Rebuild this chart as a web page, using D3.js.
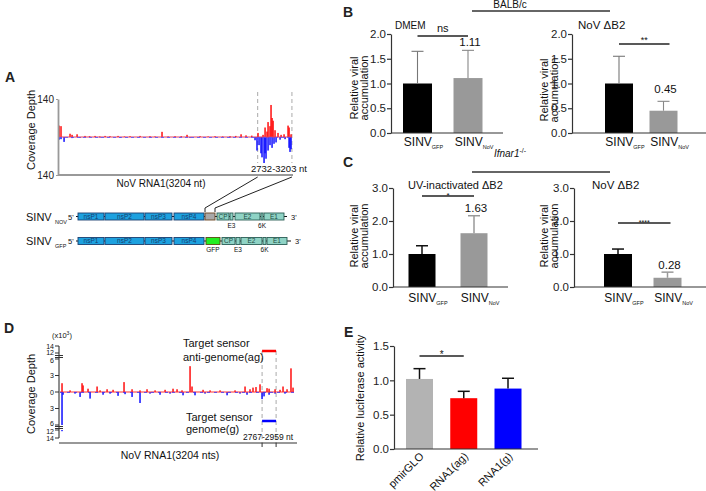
<!DOCTYPE html>
<html><head><meta charset="utf-8">
<script src="https://cdn.jsdelivr.net/npm/d3@7"></script>
<style>body{margin:0;background:#fff} svg{display:block;font-family:"Liberation Sans",Arial,sans-serif}</style>
</head><body><svg id="c" width="706" height="491"></svg>
<script>
// ---------------- DATA ----------------
// Panel A coverage (NoV RNA1, 3204 nt), reads
const covALen = 3204;
const covARegion = [2732, 3203];
const covANtRed = [0,27,151,179,248,357,495,633,811,976,1114,1416,1595,1760,1939,2145,2351,2503,2571,2736,2805,2833,2860,2874,2901,2915,2929,2943,2970,3011,3053,3094,3149,3163,3190,420,560,700,900,1250,1320,1500,1680,2050,2250,2430,2650];
const covARed   = [42,40,12,8,10,4,4,4,4,3,4,19,3,8,3,3,3,10,6,15,8,35,20,55,40,118,70,60,25,15,8,10,42,35,10,3,2,3,2,3,2,2,3,2,2,4,5];
const covANtBlue = [0,27,69,179,289,564,839,1251,1801,2351,2695,2722,2750,2777,2791,2819,2833,2846,2874,2901,2929,2956,2984,3039,3108,3163,3176,3190];
const covABlue   = [-10,-8,-18,-4,-3,-2,-3,-2,-3,-2,-12,-50,-30,-60,-75,-100,-60,-80,-50,-30,-40,-25,-20,-10,-8,-40,-55,-45];

// Genome maps (map units)
const novSegNames = ["nsP1","nsP2","nsP3","nsP4","NoV","CP","E3","E2","6K","E1"];
const novSegStart = [0,27,67,96,127,139,152,157,183,186];
const novSegEnd   = [26,66,94,126,137,151,155,182,185,206];
const gfpSegNames = ["nsP1","nsP2","nsP3","nsP4","GFP","CP","E3","E2","6K","E1"];
const gfpSegStart = [0,27,67,96,128,144,158,163,185,189];
const gfpSegEnd   = [26,66,94,126,142,157,162,184,188,209];

// Panel B (BALB/c)
const sinvCats = ["GFP","NoV"];
const bDmemVals = [1.00, 1.11], bDmemErr = [1.65, 1.67];
const bB2Vals   = [1.00, 0.45], bB2Err   = [1.55, 0.64];
const bTicks = [0, 0.5, 1.0, 1.5, 2.0];
// Panel C (Ifnar1-/-)
const cUvVals = [1.00, 1.63], cUvErr = [1.25, 2.16];
const cB2Vals = [1.00, 0.28], cB2Err = [1.15, 0.45];
const cTicks = [0, 1.0, 2.0, 3.0];
// Panel D coverage (x10^3)
const covDNtRed = [27,301,315,507,644,876,986,1191,1547,1602,1780,1807,1958,2533,2642,2738,2834,2862,3053,3162,3190,137,383,548,726,1095,1301,1438,1670,2054,2191,2396,2601,2683,2944,3012,3108];
const covDRed   = [1.6,1.6,1.2,1.0,0.5,1.8,0.5,0.5,0.6,0.5,4.7,1.0,0.4,1.0,0.8,1.4,0.7,0.6,1.0,4.3,0.8,0.3,0.6,0.3,0.4,0.3,0.3,0.4,0.3,0.3,0.3,0.3,0.5,0.9,0.5,0.4,0.5];
const covDNtBlue = [27,41,274,411,589,794,986,1095,1369,1684,1848,2287,2560,2766,2793,2862,205,685,890,1232,1506,1985,2464,2944,3080];
const covDBlue   = [-12.3,-0.5,-0.9,-1.2,-0.5,-0.7,-0.9,-2.0,-0.5,-0.6,-0.6,-0.6,-0.5,-1.3,-0.8,-0.5,-0.3,-0.3,-0.4,-0.3,-0.3,-0.3,-0.3,-0.3,-0.3];
const covDSensor = [2767, 2959];
const dTicksMid = [-6,-3,0,3,6], dTicksTop = [12,14], dTicksBot = [-12,-14];
// Panel E
const eCats = ["pmirGLO","RNA1(ag)","RNA1(g)"];
const eVals = [1.02, 0.74, 0.88], eErr = [1.17, 0.84, 1.03];
const eColors = ["#b3b3b3","#ff0000","#0000ff"];
const eTicks = [0, 0.5, 1.0, 1.5];

// ---------------- DRAW ----------------
const svg = d3.select("#c");
svg.append("rect").attr("width",706).attr("height",491).attr("fill","#fff");
const FONT = '"Liberation Sans",Arial,sans-serif';

function txt(g, x, y, s, size, anchor, extra){
  const t = g.append("text").attr("x",x).attr("y",y).attr("font-size",size)
    .attr("text-anchor",anchor||"start").attr("fill","#111").text(s);
  if(extra) extra(t);
  return t;
}

// panel letters
[["A",5,82],["B",343,17],["C",343,167],["D",4,333],["E",344,337]].forEach(d=>
  txt(svg,d[1],d[2],d[0],14,"start",t=>t.attr("font-weight","bold").attr("fill","#222")));

// ======== Panel A ========
(function(){
  const g = svg.append("g");
  const x = d3.scaleLinear().domain([0,covALen]).range([59,292]);
  const y = d3.scaleLinear().domain([-140,140]).range([175,99]);
  covARegion.forEach(v=>g.append("line").attr("x1",x(v)).attr("x2",x(v)).attr("y1",92).attr("y2",175)
    .attr("stroke","#aaa").attr("stroke-width",1).attr("stroke-dasharray","4,3"));
  g.selectAll(".ar").data(covARed).join("rect").attr("x",(d,i)=>x(covANtRed[i])-0.7).attr("width",1.5)
    .attr("y",d=>y(d)).attr("height",d=>y(0)-y(d)).attr("fill","#ff1010");
  g.selectAll(".ab").data(covABlue).join("rect").attr("x",(d,i)=>x(covANtBlue[i])-0.7).attr("width",1.5)
    .attr("y",y(0)).attr("height",d=>y(d)-y(0)).attr("fill","#1010ff");
  g.append("line").attr("x1",x(0)).attr("x2",x(covALen)).attr("y1",y(0)).attr("y2",y(0)).attr("stroke","#e04060").attr("stroke-width",1);
  g.append("line").attr("x1",x(0)).attr("x2",x(covALen)).attr("y1",y(0)+0.5).attr("y2",y(0)+0.5).attr("stroke","#5050ff").attr("stroke-width",0.8).attr("stroke-dasharray","3,3");
  const ax = g.append("g").attr("transform","translate(58,0)")
    .call(d3.axisLeft(y).tickValues([140,-140]).tickFormat(d=>Math.abs(d)).tickSize(2).tickSizeOuter(0).tickPadding(2));
  ax.select(".domain").attr("stroke","#999").attr("stroke-width",1.8);
  ax.selectAll(".tick line").attr("stroke","#999");
  ax.selectAll("text").attr("font-size",10).attr("font-family",FONT).attr("fill","#222");
  g.append("line").attr("x1",58).attr("x2",293).attr("y1",175).attr("y2",175).attr("stroke","#999").attr("stroke-width",1.8);
  txt(g,0,0,"Coverage Depth",11,"middle",t=>t.attr("transform","translate(35,130) rotate(-90)"));
  txt(g,161,187,"NoV RNA1(3204 nt)",10,"middle");
  g.append("rect").attr("x",250).attr("y",163).attr("width",56).attr("height",10).attr("fill","#fff");
  txt(g,251,172,"2732-3203 nt",9.5,"start");

  const gx = d3.scaleLinear().domain([0,210]).range([78,288]);
  function genome(names, starts, ends, cy, sub, tailEnd, below){
    const gg = g.append("g");
    gg.append("line").attr("x1",gx(0)-2).attr("x2",gx(tailEnd)).attr("y1",cy).attr("y2",cy).attr("stroke","#111").attr("stroke-width",1.2);
    names.forEach((n,i)=>{
      const s=gx(starts[i]), e=gx(ends[i]);
      let fill="#8fd3c5", stroke="#2b5e55";
      if(i<4){fill="#1da1df"; stroke="#1c3f70";}
      if(n==="NoV"){fill="#a8a8a8"; stroke="#6b4522";}
      if(n==="GFP"){fill="#22ee22"; stroke="#5a4a10";}
      gg.append("rect").attr("x",s).attr("y",cy-3.5).attr("width",e-s).attr("height",7)
        .attr("fill",fill).attr("stroke",stroke).attr("stroke-width",0.9);
      if(["nsP1","nsP2","nsP3","nsP4","CP","E2","E1"].includes(n))
        txt(gg,(s+e)/2,cy+2.4,n,6.5,"middle",t=>t.attr("fill",i<4?"#173d6e":"#1f4a42"));
      if(below.includes(n))
        txt(gg,(s+e)/2,cy+11,n,6.5,"middle");
    });
    txt(gg,26,cy+4,"SINV",11,"start");
    txt(gg,55,cy+7,sub,5.5,"start");
    txt(gg,gx(0)-10,cy+3,"5'",7.5,"start");
    txt(gg,gx(tailEnd)+4,cy+3,"3'",7.5,"start");
  }
  genome(novSegNames,novSegStart,novSegEnd,216.5,"NOV",209,["E3","6K"]);
  genome(gfpSegNames,gfpSegStart,gfpSegEnd,241,"GFP",213,["GFP","E3","6K"]);
  [[covARegion[0],novSegStart[4]],[covARegion[1],novSegEnd[4]]].forEach(p=>{
    g.append("path").attr("d",`M${x(p[0])},177 L${gx(p[1])},208 L${gx(p[1])},212`)
      .attr("fill","none").attr("stroke","#222").attr("stroke-width",1);
  });
})();

// ======== Bar panels (B, C, E) ========
function barPanel(p){
  const g = svg.append("g");
  const y = d3.scaleLinear().domain([0,p.max]).range([p.y0,p.y1]);
  const x = d3.scalePoint().domain(p.cats).range(p.centers);
  g.selectAll("rect.bar").data(p.values).join("rect").attr("class","bar")
    .attr("x",(d,i)=>x(p.cats[i])-p.barW/2).attr("width",p.barW)
    .attr("y",d=>y(d)).attr("height",d=>y(0)-y(d)).attr("fill",(d,i)=>p.colors[i]);
  p.errs.forEach((e,i)=>{
    const cx = x(p.cats[i]);
    g.append("line").attr("x1",cx).attr("x2",cx).attr("y1",y(p.values[i])).attr("y2",y(e))
      .attr("stroke",p.errColors[i]).attr("stroke-width",p.errW);
    g.append("line").attr("x1",cx-p.cap).attr("x2",cx+p.cap).attr("y1",y(e)).attr("y2",y(e))
      .attr("stroke",p.errColors[i]).attr("stroke-width",p.errW);
  });
  const ax = g.append("g").attr("transform",`translate(${p.axisX},0)`)
    .call(d3.axisLeft(y).tickValues(p.ticks).tickFormat(d3.format(".1f")).tickSize(4).tickSizeOuter(0).tickPadding(1));
  ax.select(".domain").attr("stroke","#333").attr("stroke-width",1.2);
  ax.selectAll(".tick line").attr("stroke","#333").attr("stroke-width",1.2);
  ax.selectAll("text").attr("font-size",p.tickFs||11.5).attr("font-family",FONT).attr("fill","#222");
  g.append("line").attr("x1",p.axisX).attr("x2",p.axisEnd).attr("y1",y(0)).attr("y2",y(0)).attr("stroke","#333").attr("stroke-width",1.2);
  if(p.title) txt(g,p.titleX,p.titleY,p.title,p.titleFs||11.5,"start");
  if(p.vLabel) txt(g,x(p.cats[p.vLabel.i])+2,y(p.vLabel.v)-p.vLabel.dy,p.vLabel.t,11.5,"middle");
  if(p.sig){
    const x0 = x(p.cats[0]), x1 = x(p.cats[1]) + (p.sig.ext||0);
    g.append("line").attr("x1",x0).attr("x2",x1).attr("y1",p.sig.y).attr("y2",p.sig.y).attr("stroke","#222").attr("stroke-width",1.5);
    txt(g,(x0+x1)/2,p.sig.y+p.sig.dy,p.sig.t,p.sig.fs,"middle");
  }
  if(p.sinv){
    p.cats.forEach(c=>{
      const t = g.append("text").attr("x",x(c)+6).attr("y",p.xlabY).attr("font-size",12).attr("text-anchor","middle").attr("fill","#111");
      t.append("tspan").text("SINV");
      t.append("tspan").attr("font-size",5.5).attr("dy",3).text(c);
    });
  }
  if(p.ylab){
    p.ylab.lines.forEach((l,k)=>txt(g,0,0,l,11,"middle",t=>t.attr("transform",`translate(${p.ylab.x+k*9.5},${p.ylab.cy}) rotate(-90)`)));
  }
  return {g,x,y};
}

function header(cx, ty, ly, build){
  const t = svg.append("text").attr("x",cx).attr("y",ty).attr("font-size",10).attr("text-anchor","middle").attr("fill","#111");
  build(t);
  svg.append("line").attr("x1",472).attr("x2",610).attr("y1",ly).attr("y2",ly).attr("stroke","#333").attr("stroke-width",1.6);
}
header(510,8,11,t=>t.text("BALB/c"));
header(510,157,172,t=>{t.append("tspan").attr("font-style","italic").text("Ifnar1");
  t.append("tspan").attr("font-size",7).attr("dy",-4).text("-/-");});

barPanel({cats:sinvCats,values:bDmemVals,errs:bDmemErr,max:2,y0:133,y1:34,axisX:391,axisEnd:503,
  centers:[417.5,468],barW:29,colors:["#000","#999"],errColors:["#777","#888"],errW:1.1,cap:6,ticks:bTicks,
  title:"DMEM",titleX:395,titleY:29,titleFs:10,
  vLabel:{i:1,v:1.67,dy:4,t:"1.11"},sig:{y:36,dy:-4,t:"ns",fs:11},sinv:true,xlabY:146,
  ylab:{x:358,cy:88,lines:["Relative viral","accumulation"]}});
barPanel({cats:sinvCats,values:bB2Vals,errs:bB2Err,max:2,y0:133,y1:34,axisX:572,axisEnd:706,
  centers:[619,663.5],barW:28,colors:["#000","#999"],errColors:["#777","#888"],errW:1.1,cap:6,ticks:bTicks,
  title:"NoV ΔB2",titleX:578,titleY:29,
  vLabel:{i:1,v:0.64,dy:8,t:"0.45"},sig:{y:44,dy:-1,t:"**",fs:9,ext:6},sinv:true,xlabY:146,
  ylab:{x:548,cy:90,lines:["Relative viral","accumulation"]}});
barPanel({cats:sinvCats,values:cUvVals,errs:cUvErr,max:3,y0:287,y1:188,axisX:393,axisEnd:508,
  centers:[422,474],barW:27,colors:["#000","#999"],errColors:["#111","#999"],errW:1.5,cap:6,ticks:cTicks,
  title:"UV-inactivated ΔB2",titleX:408,titleY:189,titleFs:11,
  vLabel:{i:1,v:2.16,dy:4,t:"1.63"},sig:{y:196,dy:2,t:"*",fs:8},sinv:true,xlabY:302,
  ylab:{x:358,cy:236,lines:["Relative viral","accumulation"]}});
barPanel({cats:sinvCats,values:cB2Vals,errs:cB2Err,max:3,y0:287,y1:188,axisX:574,axisEnd:706,
  centers:[618,667.5],barW:28,colors:["#000","#999"],errColors:["#111","#999"],errW:1.5,cap:6,ticks:cTicks,
  title:"NoV ΔB2",titleX:592,titleY:189,
  vLabel:{i:1,v:0.45,dy:3,t:"0.28"},sig:{y:223,dy:1.5,t:"****",fs:7,ext:3},sinv:true,xlabY:302,
  ylab:{x:548,cy:236,lines:["Relative viral","accumulation"]}});

// ======== Panel E ========
(function(){
  const r = barPanel({cats:eCats,values:eVals,errs:eErr,max:1.5,y0:449,y1:346,axisX:394,axisEnd:538,
    centers:[419.5,508],barW:27,colors:eColors,errColors:["#111","#111","#111"],errW:1.5,cap:6,ticks:eTicks,
    sig:{y:356,dy:2,t:"*",fs:10},
    ylab:{x:364,cy:398,lines:["Relative luciferase activity"]}});
  eCats.forEach(c=>{
    txt(r.g,0,0,c,11,"end",t=>t.attr("transform",`translate(${r.x(c)+5},${457}) rotate(-45)`));
  });
})();

// ======== Panel D ========
(function(){
  const g = svg.append("g");
  const x = d3.scaleLinear().domain([0,covALen]).range([60,294]);
  const yMid = d3.scaleLinear().domain([-6,6]).range([425,359]);
  const yTop = d3.scaleLinear().domain([12,14]).range([353,346]);
  const yBot = d3.scaleLinear().domain([-12,-14]).range([430,438]);
  covDSensor.forEach(v=>{
    g.append("line").attr("x1",x(v)).attr("x2",x(v)).attr("y1",351).attr("y2",443).attr("stroke","#aaa").attr("stroke-dasharray","4,3");
    g.append("line").attr("x1",x(v)).attr("x2",x(v)).attr("y1",443).attr("y2",447).attr("stroke","#333");
  });
  g.append("line").attr("x1",x(covDSensor[0])).attr("x2",x(covDSensor[1])).attr("y1",351).attr("y2",351).attr("stroke","#ff0000").attr("stroke-width",2.5);
  g.append("line").attr("x1",x(covDSensor[0])).attr("x2",x(covDSensor[1])).attr("y1",421).attr("y2",421).attr("stroke","#0000ff").attr("stroke-width",2.5);
  const clampMid = v=>Math.max(-6,Math.min(6,v));
  g.selectAll(".dr").data(covDRed).join("rect").attr("x",(d,i)=>x(covDNtRed[i])-0.7).attr("width",1.5)
    .attr("y",d=>yMid(clampMid(d))).attr("height",d=>yMid(0)-yMid(clampMid(d))).attr("fill","#ff1010");
  g.selectAll(".db").data(covDBlue).join("rect").attr("x",(d,i)=>x(covDNtBlue[i])-0.7).attr("width",1.5)
    .attr("y",yMid(0)).attr("height",d=>yMid(clampMid(d))-yMid(0)).attr("fill","#1010ff");
  g.selectAll(".db2").data(covDBlue.filter(d=>d<-12)).join("rect")
    .attr("x",d=>x(covDNtBlue[covDBlue.indexOf(d)])-0.7).attr("width",1.5)
    .attr("y",yBot(-12)).attr("height",d=>yBot(d)-yBot(-12)).attr("fill","#1010ff");
  g.append("line").attr("x1",x(0)).attr("x2",x(covALen)).attr("y1",yMid(0)).attr("y2",yMid(0)).attr("stroke","#ff3030").attr("stroke-width",1);
  g.append("line").attr("x1",x(0)).attr("x2",x(covALen)).attr("y1",yMid(0)+0.4).attr("y2",yMid(0)+0.4).attr("stroke","#3030ff").attr("stroke-width",0.8).attr("stroke-dasharray","3,4");
  g.append("line").attr("x1",59).attr("x2",59).attr("y1",346).attr("y2",438).attr("stroke","#333").attr("stroke-width",1.1);
  const nudge = {"12":-1,"6":1.2,"-6":-1.2,"-12":1.2};
  const tickSet = [[yTop,dTicksTop],[yMid,dTicksMid],[yBot,dTicksBot]];
  tickSet.forEach(([sc,ts])=>ts.forEach(t=>{
    g.append("line").attr("x1",55).attr("x2",59).attr("y1",sc(t)).attr("y2",sc(t)).attr("stroke","#333");
    txt(g,54,sc(t)+2.5+(nudge[String(t)]||0),String(Math.abs(t)),7,"end");
  }));
  [355.5,357.5,426.5,428.5].forEach(yy=>g.append("line").attr("x1",55).attr("x2",63).attr("y1",yy).attr("y2",yy).attr("stroke","#333").attr("stroke-width",1));
  const xt = txt(g,52,338,"(x10",7.5,"start");
  xt.append("tspan").attr("font-size",5).attr("dy",-3).text("3");
  xt.append("tspan").attr("dy",3).text(")");
  g.append("line").attr("x1",59).attr("x2",297).attr("y1",443).attr("y2",443).attr("stroke","#333").attr("stroke-width",1.1);
  txt(g,0,0,"Coverage Depth",11,"middle",t=>t.attr("transform","translate(35,394) rotate(-90)"));
  txt(g,170,459,"NoV RNA1(3204 nts)",10.5,"middle");
  txt(g,243,440,"2767-2959 nt",8.5,"start");
  txt(g,183,347,"Target sensor",11,"start");
  txt(g,183,361,"anti-genome(ag)",11,"start");
  txt(g,186,421,"Target sensor",11,"start");
  txt(g,186,433,"genome(g)",11,"start");
})();
</script></body></html>
